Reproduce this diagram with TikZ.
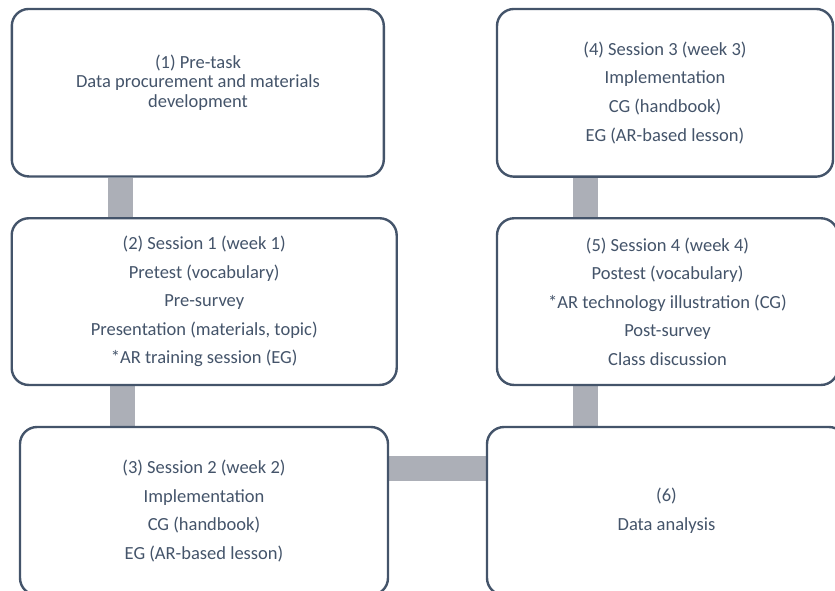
\documentclass[tikz,border=0pt]{standalone}
\usepackage{fontspec}
\setmainfont{Carlito}
\usetikzlibrary{backgrounds}
\definecolor{edgec}{HTML}{44546A}
\definecolor{barc}{HTML}{ACAFB7}
\begin{document}
\begin{tikzpicture}[x=1pt,y=-1pt,
  box/.style={draw=edgec, line width=2.4pt, rounded corners=17pt, fill=white, inner sep=0pt,
    text=edgec, align=center, font=\fontsize{18.5}{19.4}\selectfont},
  boxtext/.style={text=edgec, align=center, inner sep=0pt, font=\fontsize{18.5}{19.4}\selectfont},
  barline/.style={draw=barc, line width=25pt, line cap=butt}]
\useasboundingbox (0,0) rectangle (835,590);
\clip (0,0) rectangle (835,590);

\node[box, minimum width=372pt, minimum height=167.5pt] (b1) at (197.8,92.7) {};
\node[boxtext] (t1) at (198,82.5) {(1) Pre-task\\Data procurement and materials\\development};

\node[box, minimum width=385pt, minimum height=166.7pt] (b2) at (204.2,301.6)
  {(2) Session 1 (week 1)\\[9.2pt]Pretest (vocabulary)\\[9.2pt]Pre-survey\\[9.2pt]Presentation (materials, topic)\\[9.2pt]*AR training session (EG)};

\node[box, minimum width=368pt, minimum height=168pt] (b3) at (204,511)
  {(3) Session 2 (week 2)\\[9.2pt]Implementation\\[9.2pt]CG (handbook)\\[9.2pt]EG (AR-based lesson)};

\node[box, minimum width=336pt, minimum height=167.7pt] (b4) at (665,92.8)
  {(4) Session 3 (week 3)\\[9.2pt]Implementation\\[9.2pt]CG (handbook)\\[9.2pt]EG (AR-based lesson)};

\node[box, minimum width=341pt, minimum height=166.7pt] (b5) at (667.5,301.6)
  {(5) Session 4 (week 4)\\[9.2pt]Postest (vocabulary)\\[9.2pt]*AR technology illustration (CG)\\[9.2pt]Post-survey\\[9.2pt]Class discussion};

\node[box, minimum width=359pt, minimum height=168pt] (b6) at (666.5,511)
  {(6)\\[9.2pt]Data analysis};

\coordinate (k12) at (120,0);
\coordinate (k23) at (122,0);
\coordinate (k45) at (585,0);
\coordinate (k36) at (0,468);

\begin{scope}[on background layer]
  \draw[barline] (b1.south -| k12) -- (b2.north -| k12);
  \draw[barline] (b2.south -| k23) -- (b3.north -| k23);
  \draw[barline] (b4.south -| k45) -- (b5.north -| k45);
  \draw[barline] (b5.south -| k45) -- (b6.north -| k45);
  \draw[barline] (b3.east |- k36) -- (b6.west |- k36);
\end{scope}
\end{tikzpicture}
\end{document}
